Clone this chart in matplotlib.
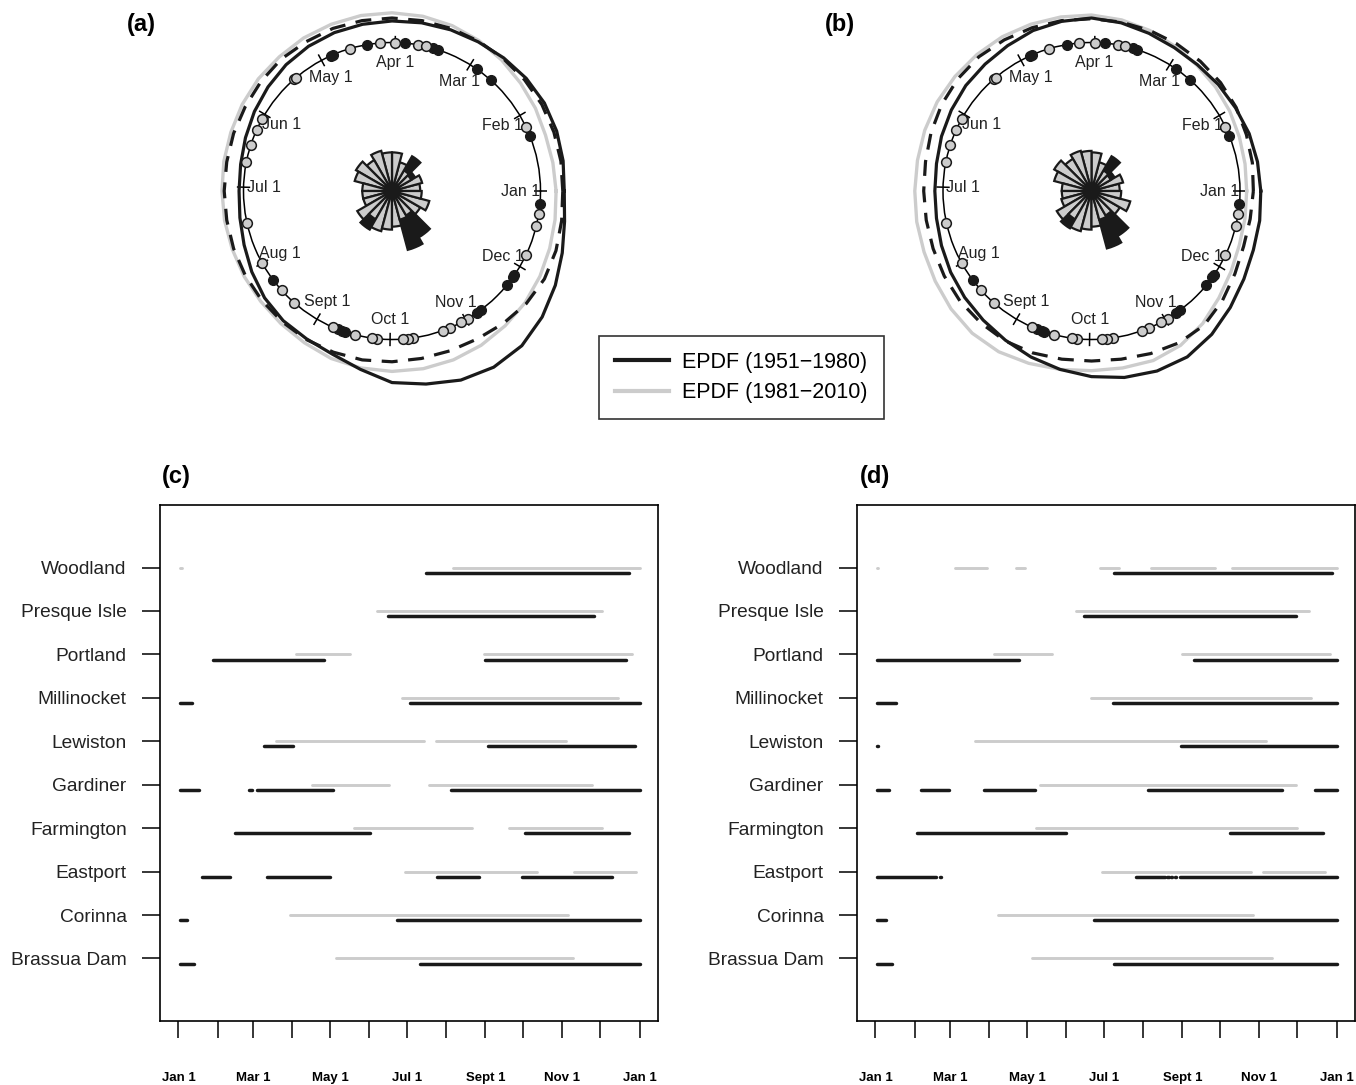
import numpy as np
import matplotlib
matplotlib.use("Agg")
import matplotlib.pyplot as plt
from matplotlib.lines import Line2D

plt.rcParams['font.family'] = ['Liberation Sans', 'DejaVu Sans']

# ---------------- circular panels (a) and (b) ----------------
# EPDF curves, radius (unit = day circle) read every 10 degrees
curve_deg = list(range(0, 360, 10))

a_black = [1.16, 1.17, 1.18, 1.185, 1.18, 1.17, 1.16, 1.155, 1.15, 1.145, 1.14, 1.135,
           1.125, 1.11, 1.09, 1.07, 1.05, 1.035, 1.03, 1.04, 1.06, 1.09, 1.12, 1.14,
           1.15, 1.17, 1.22, 1.29, 1.32, 1.355, 1.37, 1.36, 1.32, 1.27, 1.22, 1.18]
a_gray = [1.105, 1.10, 1.10, 1.115, 1.13, 1.15, 1.17, 1.185, 1.195, 1.20, 1.20, 1.195,
          1.19, 1.18, 1.175, 1.165, 1.155, 1.15, 1.145, 1.145, 1.145, 1.15, 1.155, 1.165,
          1.18, 1.20, 1.21, 1.215, 1.215, 1.21, 1.20, 1.185, 1.17, 1.15, 1.13, 1.115]
a_dash = [1.15, 1.155, 1.16, 1.165, 1.165, 1.165, 1.165, 1.165, 1.165, 1.165, 1.165, 1.165,
          1.16, 1.16, 1.15, 1.14, 1.135, 1.13, 1.13, 1.13, 1.135, 1.14, 1.145, 1.15,
          1.155, 1.155, 1.155, 1.15, 1.145, 1.145, 1.15, 1.165, 1.18, 1.185, 1.175, 1.16]

b_black = [1.14, 1.135, 1.13, 1.12, 1.115, 1.11, 1.115, 1.13, 1.15, 1.165, 1.16, 1.15,
           1.13, 1.115, 1.105, 1.09, 1.075, 1.06, 1.055, 1.06, 1.075, 1.095, 1.115, 1.135,
           1.16, 1.19, 1.22, 1.25, 1.275, 1.29, 1.29, 1.26, 1.22, 1.185, 1.16, 1.15]
b_gray = [1.045, 1.05, 1.06, 1.075, 1.09, 1.105, 1.125, 1.15, 1.17, 1.185, 1.19, 1.195,
          1.20, 1.20, 1.20, 1.20, 1.195, 1.19, 1.19, 1.195, 1.20, 1.215, 1.235, 1.25,
          1.25, 1.235, 1.22, 1.21, 1.21, 1.215, 1.20, 1.165, 1.12, 1.085, 1.06, 1.05]
b_dash = [1.09, 1.10, 1.11, 1.125, 1.135, 1.14, 1.145, 1.15, 1.155, 1.16, 1.165, 1.17,
          1.175, 1.18, 1.175, 1.165, 1.15, 1.135, 1.13, 1.13, 1.135, 1.145, 1.155, 1.16,
          1.165, 1.16, 1.15, 1.145, 1.15, 1.165, 1.18, 1.18, 1.15, 1.115, 1.09, 1.085]

# rose diagram, 15-degree bins
rose_deg = [7.5 + 15 * k for k in range(24)]
a_rose_gray = [.19, .21, .15, .16, .20, .26, .26, .28, .24, .28, .26, .20,
               .20, .20, .27, .22, .28, .26, .24, .20, .19, .22, .26, .20]
a_rose_black = [.13, .14, .18, .27, .14, .16, .13, .14, .16, .13, .13, .11,
                .12, .15, .20, .30, .22, .18, .22, .41, .36, .20, .16, .13]
b_rose_gray = [.19, .22, .15, .16, .20, .26, .27, .28, .25, .29, .26, .20,
               .20, .21, .27, .22, .28, .26, .24, .20, .19, .22, .27, .20]
b_rose_black = [.13, .14, .18, .27, .14, .16, .13, .14, .16, .13, .13, .11,
                .12, .15, .20, .29, .22, .18, .22, .40, .35, .20, .16, .13]

# dates (day of year) of the events on the circle
pts_black = [116, 115, 101, 86, 75, 73, 56, 49, 22, 360, 330, 329, 325, 311, 309,
             255, 254, 252, 220]
pts_gray = [108, 96, 90, 81, 78, 26, 356, 351, 339, 305, 302, 297, 294, 282, 280,
            278, 268, 266, 259, 250, 232, 225, 212, 195, 171, 164, 158, 153, 133, 132]

month_start = [0, 31, 59, 90, 120, 151, 181, 212, 243, 273, 304, 334]
month_lab = ['Jan 1', 'Feb 1', 'Mar 1', 'Apr 1', 'May 1', 'Jun 1', 'Jul 1', 'Aug 1',
             'Sept 1', 'Oct 1', 'Nov 1', 'Dec 1']

# ---------------- segment panels (c) and (d) ----------------
stations = ['Brassua Dam', 'Corinna', 'Eastport', 'Farmington', 'Gardiner',
            'Lewiston', 'Millinocket', 'Portland', 'Presque Isle', 'Woodland']

c_gray = {'Woodland': [(1, 3), (217, 365)],
          'Presque Isle': [(157, 335)],
          'Portland': [(93, 136), (242, 359)],
          'Millinocket': [(177, 348)],
          'Lewiston': [(77, 194), (204, 307)],
          'Gardiner': [(106, 167), (198, 327)],
          'Farmington': [(139, 232), (262, 335)],
          'Eastport': [(179, 284), (313, 362)],
          'Corinna': [(88, 308)],
          'Brassua Dam': [(125, 312)]}
c_black = {'Woodland': [(196, 357)],
           'Presque Isle': [(166, 329)],
           'Portland': [(27, 115), (243, 354)],
           'Millinocket': [(1, 11), (183, 365)],
           'Lewiston': [(68, 91), (245, 361)],
           'Gardiner': [(1, 16), (56, 58), (62, 122), (216, 365)],
           'Farmington': [(45, 152), (274, 357)],
           'Eastport': [(19, 41), (70, 120), (205, 238), (272, 343)],
           'Corinna': [(1, 7), (173, 365)],
           'Brassua Dam': [(1, 12), (191, 365)]}

d_gray = {'Woodland': [(1, 2), (63, 88), (111, 118), (178, 193), (218, 269), (282, 365)],
          'Presque Isle': [(159, 343)],
          'Portland': [(94, 140), (243, 360)],
          'Millinocket': [(171, 345)],
          'Lewiston': [(79, 309)],
          'Gardiner': [(130, 333)],
          'Farmington': [(127, 334)],
          'Eastport': [(179, 297), (307, 356)],
          'Corinna': [(97, 299)],
          'Brassua Dam': [(124, 314)]}
d_black = {'Woodland': [(189, 361)],
           'Presque Isle': [(165, 333)],
           'Portland': [(1, 114), (252, 365)],
           'Millinocket': [(1, 16), (188, 365)],
           'Lewiston': [(1, 2), (242, 365)],
           'Gardiner': [(1, 11), (36, 58), (86, 126), (216, 322), (348, 365)],
           'Farmington': [(33, 151), (281, 354)],
           'Eastport': [(1, 48), (51, 52), (206, 229), (231, 232), (234, 235),
                        (237, 238), (241, 365)],
           'Corinna': [(1, 8), (173, 365)],
           'Brassua Dam': [(1, 13), (189, 365)]}

xtick_days = [0, 31, 59, 90, 120, 151, 181, 212, 243, 273, 304, 334, 365]
xtick_lab = ['Jan 1', '', 'Mar 1', '', 'May 1', '', 'Jul 1', '', 'Sept 1', '',
             'Nov 1', '', 'Jan 1']

GRAY = '#cccccc'
BLACK = '#1a1a1a'

W, H = 1356, 1085
fig = plt.figure(figsize=(W / 100, H / 100), dpi=100)

R_PX = 148.5
RMAX = 1.42


def circ_panel(cx, cy, black, gray, dash, rose_g, rose_b):
    rp = RMAX * R_PX
    ax = fig.add_axes([(cx - rp) / W, 1 - (cy + rp) / H, 2 * rp / W, 2 * rp / H],
                      projection='polar')
    ax.set_facecolor('none')
    ax.set_ylim(0, RMAX)
    ax.spines['polar'].set_visible(False)
    ax.set_xticks([])
    ax.set_yticks([1.0])
    ax.set_yticklabels([])
    ax.tick_params(axis='y', length=0)
    ax.xaxis.grid(False)
    ax.yaxis.grid(True, color='black', lw=1.1)

    # rose diagram
    tb = np.deg2rad(rose_deg)
    ax.bar(tb, rose_b, width=np.deg2rad(15), bottom=0, color=BLACK,
           edgecolor=BLACK, lw=1.6, zorder=2)
    ax.bar(tb, rose_g, width=np.deg2rad(15), bottom=0, color=GRAY,
           edgecolor=BLACK, lw=1.6, zorder=2)

    # month ticks and labels
    tm = np.deg2rad(np.array(month_start) / 365 * 360)
    ax.vlines(tm, 0.955, 1.045, color='black', lw=1.1, zorder=2)
    for t, lab in zip(tm, month_lab):
        ax.text(t, 0.865, lab, ha='center', va='center', fontsize=11.5, color='#222222')

    # density curves
    tc = np.deg2rad(curve_deg + [curve_deg[0]])
    ax.plot(tc, gray + [gray[0]], color=GRAY, lw=2.4, zorder=3)
    ax.plot(tc, dash + [dash[0]], color=BLACK, lw=2.3, dashes=(5, 3.3), zorder=3)
    ax.plot(tc, black + [black[0]], color=BLACK, lw=2.3, zorder=3)

    # events
    ax.plot(np.deg2rad(np.array(pts_black) / 365 * 360), np.ones(len(pts_black)), 'o',
            ms=7, mfc=BLACK, mec=BLACK, mew=1.0, zorder=5, clip_on=False)
    ax.plot(np.deg2rad(np.array(pts_gray) / 365 * 360), np.ones(len(pts_gray)), 'o',
            ms=7, mfc=GRAY, mec=BLACK, mew=1.1, zorder=5, clip_on=False)
    return ax


circ_panel(392, 191, a_black, a_gray, a_dash, a_rose_gray, a_rose_black)
circ_panel(1091.5, 191, b_black, b_gray, b_dash, b_rose_gray, b_rose_black)


def seg_panel(left, gray, black):
    ax = fig.add_axes([left / W, (H - 1021) / H, 498 / W, 516 / H])
    for k, st in enumerate(stations):
        y = k + 1
        for s, e in gray.get(st, []):
            ax.hlines(y, s, e, color=GRAY, lw=2.1, capstyle='round')
        for s, e in black.get(st, []):
            ax.hlines(y - 0.12, s, e, color=BLACK, lw=2.5, capstyle='round')
    ax.set_xlim(-14.6, 379.6)
    ax.set_ylim(-0.44, 11.44)
    ax.set_yticks(range(1, 11))
    ax.set_yticklabels(stations, fontsize=13.8, color='#222222')
    ax.set_xticks(xtick_days)
    ax.set_xticklabels(xtick_lab, fontsize=9.5, fontweight='bold')
    ax.tick_params(axis='y', length=13, width=1.1, pad=11)
    ax.tick_params(axis='x', length=12, width=1.1, pad=25)
    for sp in ax.spines.values():
        sp.set_linewidth(1.2)
    return ax


seg_panel(160, c_gray, c_black)
seg_panel(857, d_gray, d_black)

# panel letters
for x, y, t in [(127, 24, '(a)'), (825, 24, '(b)'), (162, 476, '(c)'), (860, 476, '(d)')]:
    fig.text(x / W, 1 - y / H, t, fontsize=17, fontweight='bold', va='center', ha='left')

handles = [Line2D([], [], color=BLACK, lw=3.0), Line2D([], [], color=GRAY, lw=3.0)]
leg = fig.legend(handles, ['EPDF (1951\u22121980)', 'EPDF (1981\u22122010)'],
                 loc='center', bbox_to_anchor=(741.5 / W, 1 - 377.5 / H),
                 fontsize=15.5, frameon=True, fancybox=False, handlelength=2.5,
                 handletextpad=0.6, borderpad=0.75, labelspacing=0.45,
                 borderaxespad=0)
leg.get_frame().set_edgecolor('black')
leg.get_frame().set_linewidth(1.2)

fig.savefig('out.png', dpi=100)
